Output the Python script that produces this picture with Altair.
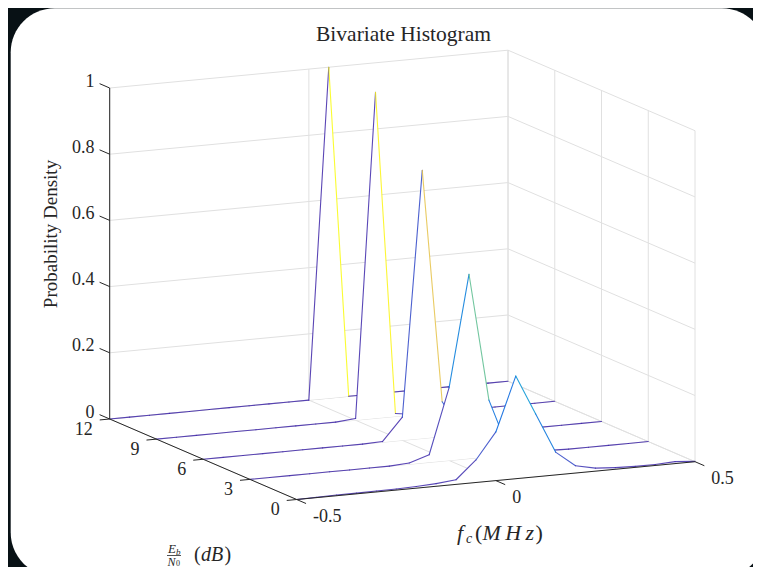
import altair as alt
import pandas as pd

# ---------------- data ----------------
FC = [-0.5, -0.45, -0.4, -0.35, -0.3, -0.25, -0.2, -0.15, -0.1, -0.05, 0.0,
      0.05, 0.1, 0.15, 0.2, 0.25, 0.3, 0.35, 0.4, 0.45, 0.5]
EB_ROWS = [12, 9, 6, 3, 0]  # drawn back to front
DENS_EB12 = [0, 0, 0, 0, 0, 0, 0, 0, 0, 0, 0, 1.0, 0, 0, 0, 0, 0, 0, 0, 0, 0]
DENS_EB9 = [0, 0, 0, 0, 0, 0, 0, 0, 0, 0, 0.005, 0.985, 0.009, 0, 0, 0, 0, 0, 0, 0, 0]
DENS_EB6 = [0, 0, 0, 0, 0, 0, 0, 0, 0, 0.002, 0.07, 0.81, 0.105, 0.01, 0.002, 0, 0, 0, 0, 0, 0]
DENS_EB3 = [0, 0, 0, 0, 0, 0, 0, 0, 0.004, 0.023, 0.22, 0.557, 0.171, 0.015, 0.005, 0.002, 0, 0, 0, 0, 0]
DENS_EB0 = [0, 0.001, 0.002, 0.002, 0.003, 0.003, 0.005, 0.008, 0.014, 0.068, 0.147, 0.31, 0.19,
            0.069, 0.022, 0.009, 0.005, 0.003, 0.003, 0.006, 0.001]
DENS = [DENS_EB12, DENS_EB9, DENS_EB6, DENS_EB3, DENS_EB0]

Z_TICKS = [0, 0.2, 0.4, 0.6, 0.8, 1]
Z_LABELS = ["0", "0.2", "0.4", "0.6", "0.8", "1"]
EB_TICKS = [0, 3, 6, 9, 12]
EB_LABELS = ["0", "3", "6", "9", "12"]
FC_TICKS = [-0.5, 0, 0.5]
FC_LABELS = ["-0.5", "0", "0.5"]

PARULA = ["#3e26a8", "#0f5cdd", "#1481d6", "#06a4ca", "#2eb7a4",
          "#87bf77", "#d1bb59", "#fec832", "#f9fb0e"]
PARULA_STOPS = [0, 0.125, 0.25, 0.375, 0.5, 0.625, 0.75, 0.875, 1]

# ---------------- 3-D view (orthographic camera, page pixels) ----------------
X0, Y0 = 296.7, 499.5
FX, FY = 398.3, -37.8
EX, EY = -187.0, -80.5
ZY = -331.0

W, H = 745, 559
XS = alt.Scale(domain=[8, 8 + W], nice=False, zero=False)
YS = alt.Scale(domain=[8, 8 + H], nice=False, zero=False, reverse=True)
CS = alt.Scale(domain=PARULA_STOPS, range=PARULA)

FONT = "Liberation Serif"
INK = "#262626"


def sx(f, e):
    return f"{X0} + {FX}*(datum.{f} + 0.5) + ({EX})*datum.{e}/12"


def sy(f, e, z):
    return f"{Y0} + ({FY})*(datum.{f} + 0.5) + ({EY})*datum.{e}/12 + ({ZY})*datum.{z}"


def seg_df(segs, extra=None):
    df = pd.DataFrame(segs, columns=["f1", "e1", "z1", "f2", "e2", "z2"])
    if extra:
        for k, v in extra.items():
            df[k] = v
    return df


def seg_chart(df):
    return alt.Chart(df).transform_calculate(
        px1=sx("f1", "e1"), py1=sy("f1", "e1", "z1"),
        px2=sx("f2", "e2"), py2=sy("f2", "e2", "z2"),
    )


def seg_enc():
    return dict(
        x=alt.X("px1:Q", scale=XS, axis=None),
        y=alt.Y("py1:Q", scale=YS, axis=None),
        x2="px2", y2="py2",
    )


layers = []

# card
layers.append(
    alt.Chart(pd.DataFrame({"a": [0]})).mark_rect(color="white", cornerRadius=44, clip=True).encode(
        x=alt.value(2.7), x2=alt.value(758), y=alt.value(0.3), y2=alt.value(568.4)
    )
)

# grid lines (back wall, right wall, floor)
grid = []
for z in Z_TICKS:
    grid.append((-0.5, 12, z, 0.5, 12, z))
    grid.append((0.5, 0, z, 0.5, 12, z))
for f in FC_TICKS:
    grid.append((f, 12, 0, f, 12, 1))
    grid.append((f, 0, 0, f, 12, 0))
for e in EB_TICKS:
    grid.append((0.5, e, 0, 0.5, e, 1))
    grid.append((-0.5, e, 0, 0.5, e, 0))
layers.append(seg_chart(seg_df(grid)).mark_rule(color="#e0e0e0", strokeWidth=1).encode(**seg_enc()))

# waterfall rows
pts = []
segs = []
for eb, dens in zip(EB_ROWS, DENS):
    for f, z in zip(FC, dens):
        pts.append({"eb": eb, "fc": f, "z": z, "z0": 0})
    for i in range(len(FC) - 1):
        segs.append({"f1": FC[i], "e1": eb, "z1": dens[i], "f2": FC[i + 1], "e2": eb,
                     "z2": dens[i + 1], "c": dens[i]})
pts_df = pd.DataFrame(pts)
segs_df = pd.DataFrame(segs)

for eb in EB_ROWS:
    area = alt.Chart(pts_df).transform_filter(f"datum.eb == {eb}").transform_calculate(
        sx=sx("fc", "eb"), sy=sy("fc", "eb", "z"), sb=sy("fc", "eb", "z0")
    ).mark_area(color="white", opacity=1).encode(
        x=alt.X("sx:Q", scale=XS, axis=None),
        y=alt.Y("sy:Q", scale=YS, axis=None),
        y2="sb",
    )
    line = seg_chart(segs_df).transform_filter(f"datum.e1 == {eb}").mark_rule(
        strokeWidth=1.1, strokeCap="round", opacity=0.85
    ).encode(color=alt.Color("c:Q", scale=CS, legend=None), **seg_enc())
    layers += [area, line]

# axis lines and ticks
axes = [(-0.5, 12, 0, -0.5, 12, 1), (-0.5, 0, 0, -0.5, 12, 0), (-0.5, 0, 0, 0.5, 0, 0)]
ztk = [(-0.5, 12, z, -0.5, 12.65, z) for z in Z_TICKS]
etk = [(-0.5, e, 0, -0.525, e, 0) for e in EB_TICKS]
ftk = [(f, 0, 0, f, -0.6, 0) for f in FC_TICKS]
layers.append(seg_chart(seg_df(axes + ztk + etk + ftk)).mark_rule(color=INK, strokeWidth=1).encode(**seg_enc()))


def tick_labels(segs, labels, align, dx, dy):
    df = seg_df(segs, {"label": labels})
    return seg_chart(df).mark_text(
        align=align, baseline="middle", dx=dx, dy=dy, font=FONT, fontSize=18, color=INK
    ).encode(
        x=alt.X("px2:Q", scale=XS, axis=None),
        y=alt.Y("py2:Q", scale=YS, axis=None),
        text="label:N",
    )


layers.append(tick_labels(ztk, Z_LABELS, "right", -5, -2))
layers.append(tick_labels(etk, EB_LABELS, "right", -7, 10))
layers.append(tick_labels(ftk, FC_LABELS, "left", 7, 13))


def label(text, x, y, size, style="normal", align="center", angle=0):
    kw = dict(align=align, baseline="middle", font=FONT, fontSize=size, color=INK, fontStyle=style)
    if angle:
        kw["angle"] = angle
    return alt.Chart(pd.DataFrame({"t": [text]})).mark_text(**kw).encode(
        x=alt.value(x - 8), y=alt.value(y - 8), text="t:N"
    )


layers.append(label("Bivariate Histogram", 403.5, 35, 21.5))
layers.append(label("Probability Density", 50.5, 234, 19, angle=270))
# f_c (MHz)
layers.append(label("f", 457, 533, 22, "italic", "left"))
layers.append(label("c", 466, 539, 14, "italic", "left"))
layers.append(label("(", 475, 533, 22, "normal", "left"))
layers.append(label("M\u2009H\u2009z", 482.5, 533, 22, "italic", "left"))
layers.append(label(")", 535.5, 533, 22, "normal", "left"))
# Eb/N0 (dB)  (kept a few px higher so it stays inside the drawing)
layers.append(label("E", 168, 549, 13, "italic", "left"))
layers.append(label("b", 176, 552, 9, "italic", "left"))
layers.append(
    alt.Chart(pd.DataFrame({"a": [0]})).mark_rule(color=INK, strokeWidth=0.8).encode(
        x=alt.value(167 - 8), x2=alt.value(181 - 8), y=alt.value(555.5 - 8)
    )
)
layers.append(label("N", 167.5, 561.5, 12, "italic", "left"))
layers.append(label("0", 176, 564, 8, "normal", "left"))
layers.append(label("(", 194, 555, 20, "normal", "left"))
layers.append(label("dB", 201, 555, 20, "italic", "left"))
layers.append(label(")", 224.5, 555, 20, "normal", "left"))

chart = alt.layer(*layers).properties(
    width=W, height=H, padding=0, autosize="none", background="#081115"
).configure_view(stroke="transparent")

chart.save("out.html", embed_options={"renderer": "svg", "actions": False})
